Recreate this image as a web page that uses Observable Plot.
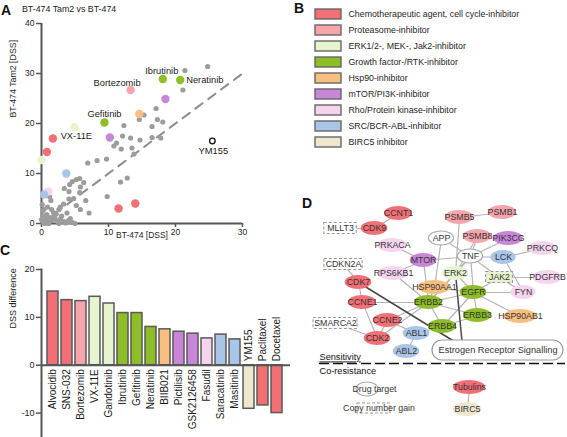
<!DOCTYPE html>
<html><head><meta charset="utf-8">
<script src="https://cdn.jsdelivr.net/npm/d3@7"></script>
<script src="https://cdn.jsdelivr.net/npm/@observablehq/plot@0.6"></script>
<style>
body{margin:0;background:#fff;font-family:"Liberation Sans",Arial,Helvetica,sans-serif;}
#fig{position:relative;width:567px;height:437px;overflow:hidden;background:#fff;}
.panel{position:absolute;}
.letter{position:absolute;font-weight:bold;font-size:14px;line-height:14px;color:#111;}
.title{position:absolute;font-size:8.8px;line-height:10px;color:#222;white-space:nowrap;}
</style></head><body><div id="fig"></div>
<script>
// ---------- Drug classes (legend B) ----------
const classKeys = ["chemo","prot","erk","growth","hsp90","mtor","rho","src","birc5"];
const classLabels = [
  "Chemotherapeutic agent, cell cycle-inhibitor",
  "Proteasome-inhibitor",
  "ERK1/2-, MEK-, Jak2-inhibitor",
  "Growth factor-/RTK-inhibitor",
  "Hsp90-inhibitor",
  "mTOR/PI3K-inhibitor",
  "Rho/Protein kinase-inhibitor",
  "SRC/BCR-ABL-inhibitor",
  "BIRC5 inhibitor"
];
const classColors = ["#f36f76","#f7a4ab","#e6f4cf","#8dbd27","#f9bf80","#c986d8","#f6d4f0","#a9c5e8","#eee6cd"];

// ---------- Panel A: selected drugs ----------
const drugNames = ["Alvocidib","SNS-032","Bortezomib","VX-11E","Gandotinib","Ibrutinib","Gefitinib","Neratinib","BIIB021","Pictilisib","GSK2126458","Fasudil","Saracatinib","Masitinib","YM155","Paclitaxel","Docetaxel"];
const drugClass = ["chemo","chemo","prot","erk","erk","growth","growth","growth","hsp90","mtor","mtor","rho","src","src","birc5","chemo","chemo"];
const parentDSS = [1.7,0.8,13.3,4.9,0.0,18.1,9.4,20.7,14.6,10.2,18.5,1.0,3.7,0.4,25.5,11.5,14.0];
const tam2DSS   = [17.0,14.3,26.7,19.2,12.7,28.9,20.2,28.7,21.9,17.2,24.9,6.4,10.0,5.8,16.5,3.0,4.0];

// other drugs (grey)
const otherParent = [24.8,21.4,21.1,17.1,15.3,14.6,17.3,18.1,16.5,12.3,12.1,13.3,14.7,16.5,17.8,11.2,10.8,11.9,13.5,13.8,9.7,8.3,6.9,12.8,11.8,9.8,5.7,5.2,4.6,6.3,4.2,5.8,3.4,4.1,5.7,4.8,4.1,6.6,1.2,1.4,0.1,3.3,2.8,2.6,5.2,7.1,5.8,3.8,1.8,0.2,0.3,0.6,1.0,1.3,0.2,0.8,1.6,2.0,2.4,1.1,0.5,2.8,3.3,0.0,1.9,3.0,0.4,1.5,2.2,3.9,4.3,0.9,2.6,3.6,4.6,5.0,4.0];
const otherTam2   = [31.4,30.6,26.7,23.0,21.7,20.8,20.8,20.3,19.4,19.6,17.5,17.1,16.7,17.2,17.1,16.1,15.5,14.9,15.1,13.9,12.9,12.6,12.1,9.1,8.3,5.4,9.0,8.8,8.4,8.2,7.8,7.3,7.0,6.4,6.2,5.0,4.9,4.6,5.4,4.6,3.8,3.9,3.3,2.8,3.6,2.1,2.8,2.1,2.2,2.6,0.5,1.0,0.3,1.2,1.6,1.8,0.6,1.0,0.4,0.0,0.0,0.9,0.4,0.8,1.6,1.5,2.9,2.8,1.9,0.3,1.0,3.3,0.0,0.1,0.2,0.0,0.6];
const identityRange = [0, 30];
const aLabelled = ["Bortezomib","Ibrutinib","Neratinib","Gefitinib","VX-11E","YM155"];

// ---------- Panel C: DSS difference ----------
const barDiff = [15.4,13.6,13.4,14.3,12.9,10.9,10.9,8.0,7.5,7.0,6.6,5.6,6.4,5.4,-9.1,-8.4,-10.0];

// ---------- Panel D: network ----------
const nodeNames = ["CCNT1","PSMB5","PSMB1","MLLT3","CDK9","APP","PSMB8","PIK3CG","PRKACA","PRKCQ","TNF","LCK","MTOR","CDKN2A","RPS6KB1","ERK2","JAK2","PDGFRB","CDK7","HSP90AA1","EGFR","FYN","CCNE1","ERBB2","ERBB3","HSP90AB1","SMARCA2","CCNE2","ERBB4","ABL1","CDK2","ABL2","Tubulins","BIRC5"];
const nodeX = [108,169,212,50,84,151,187,218,102,252,180,213,133,53,103,165,209,257,68,144,183,233,72,138,187,230,45,97,152,126,87,116,179,177];
const nodeY = [23,27,22,38,38,48,46,48,55,58,66,67,70,74,83,83,87,87,92,97,102,102,112,112,125,126,133,130,136,143,148,161,197,219];
const nodeClass = ["chemo","prot","prot","none","chemo","none","prot","mtor","rho","rho","none","src","mtor","none","rho","erk","erk","rho","chemo","hsp90","growth","rho","chemo","growth","growth","hsp90","none","chemo","growth","src","chemo","src","chemo","birc5"];
const nodeKind = ["target","target","target","gain","target","target","target","target","target","target","target","target","target","gain","target","target","gain","target","target","target","target","target","target","target","target","target","gain","target","target","target","target","target","target","target"];
const edgeFrom = ["CCNT1","MLLT3","PSMB5","PSMB5","PSMB8","PSMB8","APP","APP","PIK3CG","TNF","TNF","TNF","TNF","TNF","TNF","LCK","LCK","MTOR","MTOR","MTOR","ERK2","ERK2","JAK2","JAK2","JAK2","EGFR","EGFR","EGFR","EGFR","EGFR","EGFR","ERBB2","ERBB2","ERBB2","ERBB2","ERBB2","ERBB2","ERBB2","ERBB4","ERBB4","ABL1","CDK7","CDK7","CCNE1","CCNE2","SMARCA2","CCNE2","Tubulins"];
const edgeTo   = ["CDK9","CDK9","PSMB1","ERK2","TNF","ERK2","TNF","HSP90AA1","TNF","LCK","MTOR","ERK2","EGFR","JAK2","ERBB2","PRKCQ","FYN","PRKACA","RPS6KB1","ERBB2","EGFR","ERBB2","PDGFRB","EGFR","FYN","FYN","ERBB2","ERBB3","ERBB4","HSP90AA1","HSP90AB1","HSP90AA1","ERBB3","ERBB4","CCNE1","RPS6KB1","CCNE2","CDK2","ERBB3","ABL1","ABL2","CDKN2A","CCNE1","CDK2","CDK2","CDK2","ABL1","BIRC5"];
const pathwayName = "Estrogen Receptor Signalling";
const pathwayBox = {x1: 142, x2: 273, y1: 150, y2: 170, portX: 172, portY: 156};
const pathwayFrom = ["CDK7","ERK2"];
const splitLine = {y: 173, x1: 29, x2: 275};
const zoneLabels = [{text: "Sensitivity", x: 29, y: 167}, {text: "Co-resistance", x: 29, y: 181}];
const keyShapes = [{kind: "target", x: 77, y: 199, w: 22, h: 14, text: "Drug target", tx: 84}, {kind: "gain", x: 83.5, y: 218, w: 33, h: 10, text: "Copy number gain", tx: 88.5}];

// ---------- helpers ----------
const FONT = '"Liberation Sans", Arial, Helvetica, sans-serif';
const colorScale = {domain: [...classKeys, "none"], range: [...classColors, "#ffffff"]};
const fig = document.getElementById("fig");
function place(el, left, top) { el.classList.add("panel"); el.style.left = left + "px"; el.style.top = top + "px"; fig.appendChild(el); }
function addDiv(cls, text, left, top) { const d = document.createElement("div"); d.className = cls; d.textContent = text; d.style.left = left + "px"; d.style.top = top + "px"; fig.appendChild(d); }
const baseStyle = (fs) => ({fontFamily: FONT, fontSize: fs + "px", color: "#1e1e1e", background: "transparent", overflow: "visible"});

// ---------- Panel A ----------
const drugs = drugNames.map((n, i) => ({name: n, cls: drugClass[i], x: parentDSS[i], y: tam2DSS[i], diff: barDiff[i]}));
const others = otherParent.map((x, i) => ({x, y: otherTam2[i]}));
const labelStyle = {
  "Bortezomib": {textAnchor: "end", dx: 10, dy: -7},
  "Ibrutinib": {textAnchor: "middle", dx: -1, dy: -8},
  "Neratinib": {textAnchor: "start", dx: 6, dy: 0},
  "Gefitinib": {textAnchor: "middle", dx: 0, dy: -8},
  "VX-11E": {textAnchor: "middle", dx: 2, dy: 9},
  "YM155": {textAnchor: "middle", dx: 1, dy: 10}
};
const A = Plot.plot({
  width: 280, height: 245,
  marginLeft: 41, marginRight: 38, marginTop: 23, marginBottom: 22,
  x: {domain: [0, 30]},
  y: {domain: [0, 40]},
  color: colorScale,
  style: baseStyle(8.5),
  marks: [
    Plot.axisY({ticks: [0,10,20,30,40], tickSize: 5, tickPadding: 2, label: null, stroke: "#555", strokeWidth: 1.5}),
    Plot.axisX({ticks: [0,10,20,30], tickSize: 4, tickPadding: 1, label: null, stroke: "#555", strokeWidth: 1.5}),
    Plot.ruleX([0], {y1: 0, y2: 40, stroke: "#555", strokeWidth: 2}),
    Plot.ruleY([0], {x1: 0, x2: 30, stroke: "#555", strokeWidth: 2}),
    Plot.line(identityRange, {x: d => d, y: d => d, stroke: "#8c8c8c", strokeWidth: 2, strokeDasharray: "9,7"}),
    Plot.dot(others, {x: "x", y: "y", r: 2.6, fill: "#9c9c9c"}),
    Plot.dot(drugs.filter(d => d.name !== "YM155"), {x: "x", y: "y", r: 4.2, fill: "cls"}),
    Plot.dot(drugs.filter(d => d.name === "YM155"), {x: "x", y: "y", r: 2.8, fill: "white", stroke: "#111", strokeWidth: 1.3}),
    ...aLabelled.map(n => Plot.text(drugs.filter(d => d.name === n), {x: "x", y: "y", text: "name", fontSize: 9.3, fill: "#1a1a1a", ...labelStyle[n]})),
    Plot.text(["BT-474 [DSS]"], {frameAnchor: "bottom", dy: 14, fontSize: 8.5}),
    Plot.text(["BT-474 Tam2 [DSS]"], {frameAnchor: "left", dx: -28, dy: -6, rotate: -90, fontSize: 8.8})
  ]
});
place(A, 0, 0);

// ---------- Panel B ----------
const B = Plot.plot({
  width: 287, height: 155, margin: 0,
  x: {type: "band", domain: ["swatch"], range: [35, 61], padding: 0, axis: null},
  y: {type: "band", domain: classKeys, range: [4.5, 151.5], paddingInner: 0.39, paddingOuter: 0.195, axis: null},
  color: colorScale,
  style: baseStyle(8.8),
  marks: [
    Plot.cell(classKeys, {x: () => "swatch", y: d => d, fill: d => d, stroke: "#666", strokeWidth: 1.4}),
    Plot.text(classKeys, {x: () => "swatch", y: d => d, text: (d, i) => classLabels[i], dx: 20, textAnchor: "start", fill: "#1e1e1e"})
  ]
});
place(B, 280, 0);

// ---------- Panel C ----------
const C = Plot.plot({
  width: 291, height: 197,
  marginLeft: 41, marginRight: 1, marginTop: 29, marginBottom: 0,
  x: {domain: drugNames, range: [41, 287.5], paddingInner: 0.24, paddingOuter: 0.16, axis: null},
  y: {domain: [-15.1, 20]},
  color: colorScale,
  style: baseStyle(9),
  marks: [
    Plot.frame({anchor: "left", stroke: "#555", strokeWidth: 2}),
    Plot.axisY({ticks: [-10,0,10,20], tickSize: 5, tickPadding: 2, tickFormat: d => String(d), label: null, stroke: "#555", strokeWidth: 1.5}),
    Plot.barY(drugs, {x: "name", y: "diff", fill: "cls", stroke: "#5a5a5a", strokeWidth: 1.5}),
    Plot.ruleY([0], {stroke: "#555", strokeWidth: 2}),
    Plot.text(drugs.filter(d => d.diff > 0), {x: "name", y: 0, text: "name", rotate: -90, textAnchor: "end", dy: 4, fontSize: 10, fill: "#1a1a1a"}),
    Plot.text(drugs.filter(d => d.diff < 0), {x: "name", y: 0, text: "name", rotate: -90, textAnchor: "start", dy: -4, fontSize: 10, fill: "#1a1a1a"}),
    Plot.text(["DSS difference"], {frameAnchor: "left", dx: -28, dy: -25, rotate: -90, fontSize: 9})
  ]
});
place(C, 0, 240);

// ---------- Panel D ----------
const nodes = nodeNames.map((n, i) => ({name: n, x: nodeX[i], y: nodeY[i], cls: nodeClass[i], kind: nodeKind[i]}));
const byName = Object.fromEntries(nodes.map(d => [d.name, d]));
const edges = edgeFrom.map((f, i) => ({a: byName[f], b: byName[edgeTo[i]]}));
const pEdges = pathwayFrom.map(f => ({a: byName[f], b: {x: pathwayBox.portX, y: pathwayBox.portY}}));
const ellW = d => 21 + d.name.length * 1.4;
const gainW = d => d.name.length * 5.7 + 4;
const targets = nodes.filter(d => d.kind === "target");
const gains = nodes.filter(d => d.kind === "gain");
const D = Plot.plot({
  width: 277, height: 247, margin: 0,
  x: {domain: [0, 277], range: [0, 277], axis: null},
  y: {domain: [0, 247], range: [0, 247], axis: null},
  color: colorScale,
  style: baseStyle(8.8),
  marks: [
    Plot.link(edges, {x1: d => d.a.x, y1: d => d.a.y, x2: d => d.b.x, y2: d => d.b.y, stroke: "#b5b5b5", strokeWidth: 1.2}),
    Plot.link(pEdges, {x1: d => d.a.x, y1: d => d.a.y, x2: d => d.b.x, y2: d => d.b.y, stroke: "#4a4a4a", strokeWidth: 1.5}),
    Plot.rect([pathwayBox], {x1: "x1", x2: "x2", y1: "y1", y2: "y2", rx: 10, ry: 10, fill: "white", stroke: "#9a9a9a", strokeWidth: 1.2}),
    Plot.text([pathwayBox], {x: d => (d.x1 + d.x2) / 2, y: d => (d.y1 + d.y2) / 2, text: () => pathwayName, fontSize: 9.2, fill: "#333"}),
    Plot.rect(targets.filter(d => d.cls !== "none"), {x1: d => d.x - ellW(d) / 2, x2: d => d.x + ellW(d) / 2, y1: d => d.y - 7, y2: d => d.y + 7, rx: 40, ry: 40, fill: "cls"}),
    Plot.rect(targets.filter(d => d.cls === "none"), {x1: d => d.x - ellW(d) / 2, x2: d => d.x + ellW(d) / 2, y1: d => d.y - 7, y2: d => d.y + 7, rx: 40, ry: 40, fill: "white", stroke: "#a8a8a8", strokeWidth: 1.1}),
    Plot.rect(gains, {x1: d => d.x - gainW(d) / 2, x2: d => d.x + gainW(d) / 2, y1: d => d.y - 5.5, y2: d => d.y + 5.5, fill: "cls", stroke: "#9a9a9a", strokeWidth: 1.1, strokeDasharray: "3,2"}),
    Plot.text(nodes, {x: "x", y: "y", text: "name", fill: "#333", fontSize: 8.8}),
    Plot.ruleY([splitLine], {y: "y", x1: "x1", x2: "x2", stroke: "#111", strokeWidth: 1.6, strokeDasharray: "10,4"}),
    Plot.text(zoneLabels, {x: "x", y: "y", text: "text", textAnchor: "start", fontSize: 9.2, fill: "#111"}),
    Plot.rect(keyShapes.filter(d => d.kind === "target"), {x1: d => d.x - d.w / 2, x2: d => d.x + d.w / 2, y1: d => d.y - d.h / 2, y2: d => d.y + d.h / 2, rx: 40, ry: 40, fill: "white", stroke: "#a8a8a8", strokeWidth: 1.1}),
    Plot.rect(keyShapes.filter(d => d.kind === "gain"), {x1: d => d.x - d.w / 2, x2: d => d.x + d.w / 2, y1: d => d.y - d.h / 2, y2: d => d.y + d.h / 2, fill: "none", stroke: "#9a9a9a", strokeWidth: 1.1, strokeDasharray: "3,2"}),
    Plot.text(keyShapes, {x: "tx", y: "y", text: "text", fontSize: 8.8, fill: "#333"})
  ]
});
d3.select(D).selectAll("text").filter(function() { return this.textContent === "Sensitivity"; }).style("text-decoration", "underline");
place(D, 290, 190);

// ---------- panel letters & title ----------
addDiv("letter", "A", 1, 3);
addDiv("title", "BT-474 Tam2 vs BT-474", 22, 4);
addDiv("letter", "B", 294, 1);
addDiv("letter", "C", 0, 243);
addDiv("letter", "D", 302, 196);
</script></body></html>
